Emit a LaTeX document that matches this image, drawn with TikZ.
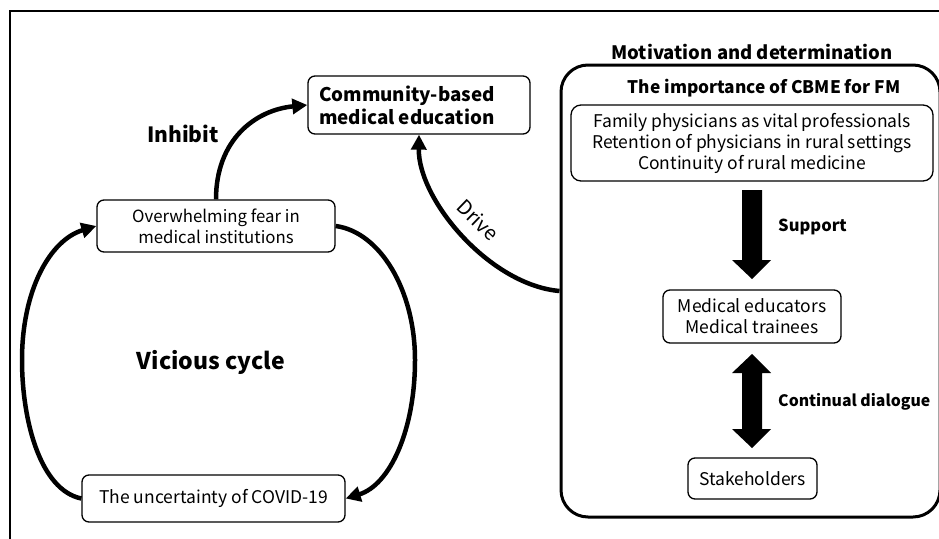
\documentclass[tikz,border=0pt]{standalone}
\usepackage{fontspec}
\setmainfont{Noto Sans CJK JP}
\usetikzlibrary{arrows.meta}
\tikzset{
  box/.style={draw, line width=1.3pt, rounded corners=7pt, inner sep=0pt, align=center,
    font=\fontsize{17.5}{21}\selectfont},
  lbl/.style={font=\bfseries\fontsize{18}{22}\selectfont, inner sep=0pt},
  flow/.style={line width=4.5pt, -{Triangle[length=15pt,width=15pt]}},
  block/.style={fill=black, draw=none}
}
\begin{document}
\begin{tikzpicture}[x=1pt,y=-1pt]
\useasboundingbox (0,0) rectangle (939,538);
% outer frame (partly cropped)
\draw[line width=1.6pt] (10,545) -- (10,11) -- (950,11);

% container
\node[draw, line width=3pt, rounded corners=27pt, minimum width=379pt, minimum height=452pt, inner sep=0pt] (motiv) at (750.5,291) {};
\node[lbl, font=\bfseries\fontsize{18.5}{22}\selectfont] (motivt) at (752,52) {Motivation and determination};
\node[lbl, font=\bfseries\fontsize{17.3}{21}\selectfont] (imp) at (764,88) {The importance of CBME for FM};
\node[box, rounded corners=10pt, minimum width=362pt, minimum height=76pt] (fam) at (752,143)
  {Family physicians as vital professionals\\Retention of physicians in rural settings\\Continuity of rural medicine};
\node[box, minimum width=178pt, minimum height=53pt] (edu) at (752,316.5) {Medical educators\\Medical trainees};
\node[box, minimum width=129pt, minimum height=41pt] (stake) at (752.5,478.5) {Stakeholders};

% block arrows
\fill[block] (742,190) -- (762,190) -- (762,260) -- (771,260) -- (752,279) -- (732,260) -- (742,260) -- cycle;
\fill[block] (752,354) -- (771,373) -- (762,373) -- (762,429) -- (771,429) -- (752,448) -- (732,429) -- (742,429) -- (742,373) -- (732,373) -- cycle;
\node[lbl, anchor=west, font=\bfseries\fontsize{16.5}{20}\selectfont] (sup) at (778,227) {Support};
\node[lbl, anchor=west, font=\bfseries\fontsize{15.8}{20}\selectfont] (dial) at (778,402) {Continual dialogue};

% left part
\node[box, minimum width=222pt, minimum height=58pt, align=left, font=\bfseries\fontsize{18.8}{23}\selectfont] (cbme) at (419,105)
  {\parbox{200pt}{Community-based\\medical education}};
\node[box, minimum width=238pt, minimum height=52pt, font=\fontsize{16.8}{21}\selectfont] (fear) at (216,226) {Overwhelming fear in\\medical institutions};
\node[box, minimum width=263pt, minimum height=47pt] (covid) at (213.5,498.5) {The uncertainty of COVID-19};
\node[lbl, font=\bfseries\fontsize{21}{25}\selectfont] (inh) at (183,134) {Inhibit};
\node[lbl, font=\bfseries\fontsize{23}{27}\selectfont] (vic) at (211,362) {Vicious cycle};
\node[inner sep=0pt, font=\fontsize{20}{24}\selectfont, rotate=-44] (drv) at (478,220) {Drive};

% connectors
\draw[flow] (fear.north) .. controls (216,140) and (255,110) .. (cbme.west);
\draw[flow] (motiv.west) .. controls (490,285) and (418,200) .. (cbme.south);
\draw[flow] (covid.west) .. controls (40,490) and (22,420) .. (22,360) .. controls (22,290) and (50,240) .. (fear.west);
\draw[flow] (fear.east) .. controls (380,232) and (415,290) .. (415,360) .. controls (415,430) and (390,485) .. (covid.east);
\end{tikzpicture}
\end{document}
